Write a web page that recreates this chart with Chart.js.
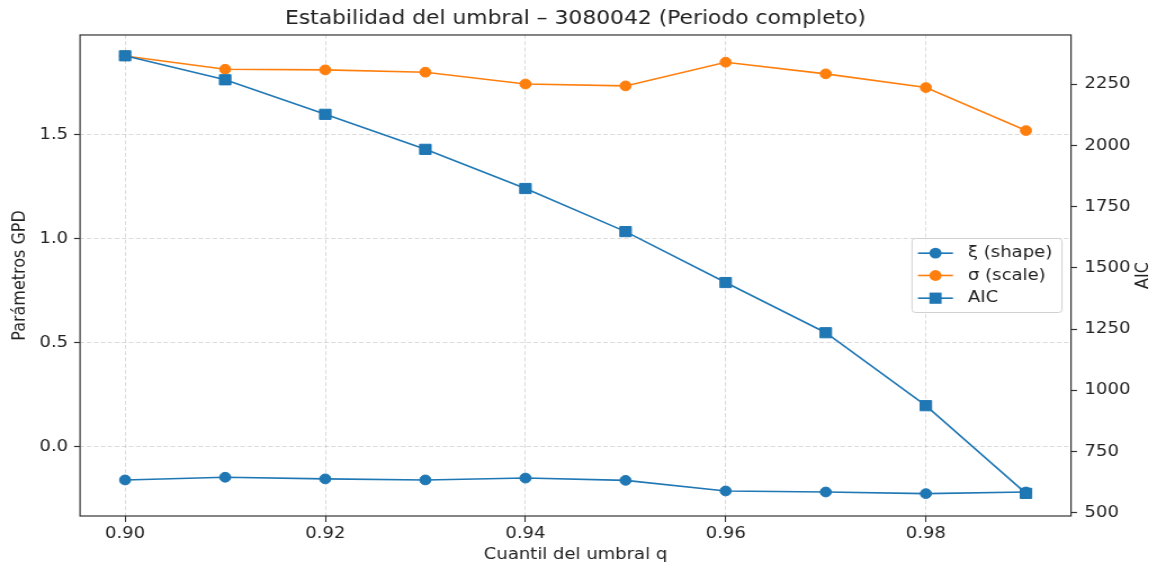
<!DOCTYPE html>
<html><head><meta charset="utf-8">
<script src="https://cdn.jsdelivr.net/npm/chart.js@4.4.1/dist/chart.umd.min.js"></script>
<style>
html,body{margin:0;padding:0;background:#fff;overflow:hidden}
#wrap{width:1028px;height:568px;transform:scaleX(1.12549);transform-origin:0 0}
</style>
</head><body>
<div id="wrap"><canvas id="c" width="1028" height="568" style="display:block;width:1028px;height:568px"></canvas></div>
<script>
const quantiles = [0.90, 0.91, 0.92, 0.93, 0.94, 0.95, 0.96, 0.97, 0.98, 0.99];
const xiShape = [-0.160, -0.147, -0.155, -0.160, -0.151, -0.162, -0.213, -0.218, -0.226, -0.218];
const sigmaScale = [1.880, 1.816, 1.813, 1.802, 1.745, 1.736, 1.850, 1.794, 1.728, 1.521];
const aicValues = [2366, 2268, 2127, 1984, 1824, 1648, 1440, 1235, 937, 579];
const xTickValues = [0.90, 0.92, 0.94, 0.96, 0.98];
const leftTickValues = [0.0, 0.5, 1.0, 1.5];
const rightTickValues = [500, 750, 1000, 1250, 1500, 1750, 2000, 2250];
const seriesLabels = ['ξ (shape)', 'σ (scale)', 'AIC'];
const titleText = 'Estabilidad del umbral – 3080042 (Periodo completo)';
const xTitle = 'Cuantil del umbral q';
const leftTitle = 'Parámetros GPD';
const rightTitle = 'AIC';

const BLUE = '#1f77b4', ORANGE = '#ff7f0e', TXT = '#222222', SPINE = '#333333';
const GRIDC = 'rgba(176,176,176,0.45)';
const FS = 16;
Chart.defaults.font.family = '"DejaVu Sans", sans-serif';
Chart.defaults.color = TXT;

const pts = vals => quantiles.map((q, i) => ({x: q, y: vals[i]}));

const decor = {
  id: 'decor',
  afterDraw(chart) {
    const ctx = chart.ctx, a = chart.chartArea;
    ctx.save();
    ctx.strokeStyle = SPINE; ctx.lineWidth = 1.2;
    ctx.strokeRect(a.left, a.top, a.right - a.left, a.bottom - a.top);
    ctx.restore();
    // right axis title (reads bottom-to-top)
    ctx.save();
    ctx.translate(a.right + 63.9, (a.top + a.bottom) / 2);
    ctx.rotate(-Math.PI / 2);
    ctx.font = FS + 'px "DejaVu Sans"'; ctx.fillStyle = TXT;
    ctx.textAlign = 'center'; ctx.textBaseline = 'middle';
    ctx.fillText(rightTitle, 0, 0);
    ctx.restore();
    // legend (center right)
    const w = 133.3, h = 74;
    const lx = a.right - 8 - w, ly = (a.top + a.bottom) / 2 - h / 2;
    ctx.save();
    ctx.beginPath();
    if (ctx.roundRect) ctx.roundRect(lx, ly, w, h, 3); else ctx.rect(lx, ly, w, h);
    ctx.fillStyle = 'rgba(255,255,255,0.85)'; ctx.fill();
    ctx.strokeStyle = '#d0d0d0'; ctx.lineWidth = 1; ctx.stroke();
    const ds = chart.data.datasets;
    const order = [1, 2, 0];
    const rowY = [14.7, 37, 59.7];
    order.forEach((di, r) => {
      const d = ds[di];
      const y = ly + rowY[r];
      ctx.strokeStyle = d.borderColor; ctx.lineWidth = 1.6;
      ctx.beginPath(); ctx.moveTo(lx + 5.3, y); ctx.lineTo(lx + 36.4, y); ctx.stroke();
      ctx.fillStyle = d.backgroundColor;
      ctx.beginPath();
      if (d.pointStyle === 'rect') ctx.rect(lx + 20.9 - 5.4, y - 5.6, 10.8, 11.2);
      else ctx.arc(lx + 20.9, y, 5.4, 0, Math.PI * 2);
      ctx.fill();
      ctx.fillStyle = TXT; ctx.font = FS + 'px "DejaVu Sans"';
      ctx.textAlign = 'left'; ctx.textBaseline = 'middle';
      ctx.fillText(d.label, lx + 49.8, y);
    });
    ctx.restore();
  }
};

new Chart(document.getElementById('c'), {
  type: 'line',
  data: {
    datasets: [
      {label: seriesLabels[2], data: pts(aicValues), yAxisID: 'y2', borderColor: BLUE, backgroundColor: BLUE,
       pointStyle: 'rect', pointRadius: 7.2, pointBorderWidth: 1, borderWidth: 1.6, order: 0},
      {label: seriesLabels[0], data: pts(xiShape), yAxisID: 'y', borderColor: BLUE, backgroundColor: BLUE,
       pointStyle: 'circle', pointRadius: 4.9, pointBorderWidth: 1, borderWidth: 1.6, order: 2},
      {label: seriesLabels[1], data: pts(sigmaScale), yAxisID: 'y', borderColor: ORANGE, backgroundColor: ORANGE,
       pointStyle: 'circle', pointRadius: 4.9, pointBorderWidth: 1, borderWidth: 1.6, order: 1}
    ]
  },
  options: {
    responsive: false, animation: false, events: [],
    layout: {padding: {left: 0, right: 5.4, top: 0, bottom: 0}},
    plugins: {
      legend: {display: false}, tooltip: {enabled: false},
      title: {display: true, text: titleText, color: TXT,
              font: {size: 19.4, weight: 'normal'}, padding: {top: 7.5, bottom: 4.2}}
    },
    scales: {
      x: {
        type: 'linear', position: 'bottom', min: 0.8955, max: 0.9945,
        afterBuildTicks: s => { s.ticks = xTickValues.map(v => ({value: v})); },
        afterFit: s => { s.height = 52; },
        ticks: {callback: v => Number(v).toFixed(2), font: {size: FS}, color: TXT, padding: 2.4, maxRotation: 0},
        grid: {color: GRIDC, lineWidth: 1, tickLength: 6, tickColor: SPINE, tickWidth: 1.1},
        border: {display: false, dash: [4, 2.2]},
        title: {display: true, text: xTitle, font: {size: FS}, color: TXT, padding: {top: 0, bottom: 3.4}}
      },
      y: {
        type: 'linear', position: 'left', min: -0.3335, max: 1.981,
        afterBuildTicks: s => { s.ticks = leftTickValues.map(v => ({value: v})); },
        afterFit: s => { s.width = 71.1; },
        ticks: {callback: v => Number(v).toFixed(1), font: {size: FS}, color: TXT, padding: 5.3},
        grid: {color: GRIDC, lineWidth: 1, tickLength: 5.3, tickColor: SPINE, tickWidth: 1.2},
        border: {display: false, dash: [4, 2.2]},
        title: {display: true, text: leftTitle, font: {size: FS}, color: TXT, padding: {top: 8.2, bottom: 0}}
      },
      y2: {
        type: 'linear', position: 'right', min: 486.5, max: 2451,
        afterBuildTicks: s => { s.ticks = rightTickValues.map(v => ({value: v})); },
        afterFit: s => { s.width = 71.0; },
        ticks: {callback: v => String(v), font: {size: FS}, color: TXT, padding: 6.7},
        grid: {drawOnChartArea: false, tickLength: 5.3, tickColor: SPINE, tickWidth: 1.2},
        border: {display: false},
        title: {display: false}
      }
    }
  },
  plugins: [decor]
});
</script>
</body></html>
